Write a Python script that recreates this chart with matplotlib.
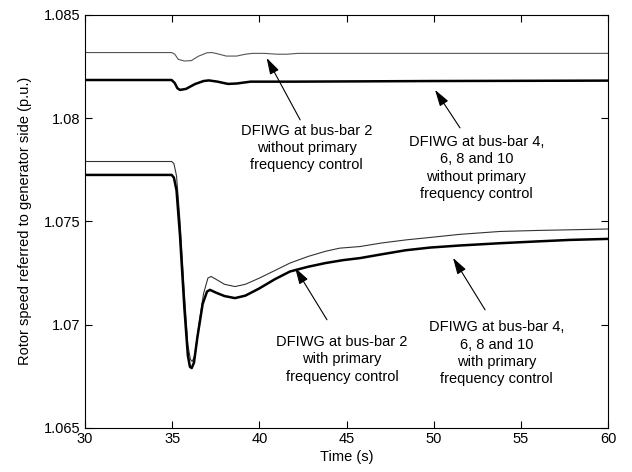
import matplotlib
matplotlib.use("Agg")
import matplotlib.pyplot as plt

plt.rcParams['font.family'] = ['Liberation Sans', 'DejaVu Sans']

# Upper curves (without primary frequency control)
t_bus2_nopfc = [30, 34.97, 35.15, 35.35, 35.7, 36.1, 36.5, 37.0, 37.3, 37.7, 38.1, 38.7, 39.2, 39.6, 40.3, 41.0, 41.6, 42.2, 60]
v_bus2_nopfc = [1.08318, 1.08318, 1.08310, 1.08285, 1.08277, 1.08279, 1.08300, 1.08317, 1.08318, 1.08310, 1.08301, 1.08301, 1.08310, 1.08314, 1.08314, 1.08310, 1.08310, 1.08314, 1.08314]

t_bus4_nopfc = [30, 34.97, 35.15, 35.3, 35.45, 35.8, 36.3, 36.8, 37.1, 37.6, 38.2, 38.7, 39.5, 42.0, 50.0, 60]
v_bus4_nopfc = [1.08185, 1.08185, 1.08170, 1.08145, 1.08137, 1.08142, 1.08165, 1.08180, 1.08183, 1.08177, 1.08166, 1.08168, 1.08177, 1.08177, 1.08180, 1.08182]

# Lower curves (with primary frequency control)
t_bus2_pfc = [30, 34.97, 35.1, 35.25, 35.45, 35.7, 35.9, 36.05, 36.15, 36.3, 36.5, 36.8, 37.05, 37.23, 37.5, 38.0, 38.6, 39.2, 40.0, 40.9, 41.76, 42.8, 43.8, 44.6, 45.78, 47.0, 48.4, 49.8, 51.5, 53.8, 56.0, 57.8, 60]
v_bus2_pfc = [1.07790, 1.07790, 1.07780, 1.07720, 1.07500, 1.07150, 1.06900, 1.06830, 1.06821, 1.06850, 1.06980, 1.07150, 1.07225, 1.07233, 1.07220, 1.07195, 1.07184, 1.07195, 1.07225, 1.07262, 1.07298, 1.07330, 1.07355, 1.07370, 1.07378, 1.07395, 1.07410, 1.07422, 1.07437, 1.07451, 1.07456, 1.07459, 1.07463]

t_bus4_pfc = [30, 34.97, 35.1, 35.25, 35.45, 35.7, 35.9, 36.02, 36.12, 36.25, 36.45, 36.75, 37.0, 37.17, 37.5, 38.0, 38.6, 39.2, 40.0, 40.9, 41.76, 42.8, 43.8, 44.8, 45.78, 47.0, 48.4, 49.8, 51.5, 53.8, 56.0, 57.8, 60]
v_bus4_pfc = [1.07725, 1.07725, 1.07712, 1.07650, 1.07430, 1.07080, 1.06850, 1.06795, 1.06789, 1.06815, 1.06940, 1.07100, 1.07160, 1.07168, 1.07155, 1.07138, 1.07128, 1.07140, 1.07175, 1.07220, 1.07257, 1.07280, 1.07298, 1.07312, 1.07322, 1.07340, 1.07360, 1.07373, 1.07383, 1.07394, 1.07403, 1.07410, 1.07415]

x_ticks = [30, 35, 40, 45, 50, 55, 60]
y_ticks = [1.065, 1.07, 1.075, 1.08, 1.085]
y_tick_labels = ['1.065', '1.07', '1.075', '1.08', '1.085']

labels = [
    "DFIWG at bus-bar 2\nwithout primary\nfrequency control",
    "DFIWG at bus-bar 4,\n6, 8 and 10\nwithout primary\nfrequency control",
    "DFIWG at bus-bar 2\nwith primary\nfrequency control",
    "DFIWG at bus-bar 4,\n6, 8 and 10\nwith primary\nfrequency control",
]
# arrow tip, tail and text centre (data coords)
arrow_tips = [(40.42, 1.08292), (50.08, 1.08137), (42.05, 1.07275), (51.11, 1.07323)]
arrow_tails = [(42.34, 1.07992), (51.51, 1.07953), (43.88, 1.07023), (52.95, 1.07071)]
text_pos = [(42.72, 1.07856), (52.45, 1.07759), (44.74, 1.06831), (53.62, 1.06860)]

FS = 10.5

fig = plt.figure(figsize=(6.32, 4.72), dpi=100)
ax = fig.add_axes([85/632, 1-427.7/472, (608-85)/632, (427.7-15)/472])

ax.plot(t_bus2_nopfc, v_bus2_nopfc, color='#555555', lw=0.8)
ax.plot(t_bus4_nopfc, v_bus4_nopfc, color='black', lw=1.8)
ax.plot(t_bus2_pfc, v_bus2_pfc, color='#333333', lw=0.8)
ax.plot(t_bus4_pfc, v_bus4_pfc, color='black', lw=1.8)

for lab, tip, tail, tp in zip(labels, arrow_tips, arrow_tails, text_pos):
    ax.annotate('', xy=tip, xytext=tail,
                arrowprops=dict(arrowstyle='-|>,head_length=1.0,head_width=0.3',
                                color='black', lw=0.8, mutation_scale=10,
                                shrinkA=0, shrinkB=0))
    ax.text(tp[0], tp[1], lab, ha='center', va='center', multialignment='center',
            fontsize=FS, linespacing=1.3)

ax.set_xlim(30, 60)
ax.set_ylim(1.065, 1.085)
ax.set_xticks(x_ticks)
ax.set_xticklabels([str(v) for v in x_ticks])
ax.set_yticks(y_ticks)
ax.set_yticklabels(y_tick_labels)
ax.tick_params(direction='in', top=True, right=True, length=5, width=0.8, labelsize=FS, pad=3)
for s in ax.spines.values():
    s.set_linewidth(0.8)
ax.set_xlabel('Time (s)', fontsize=FS, labelpad=3)
ax.set_ylabel('Rotor speed referred to generator side (p.u.)', fontsize=FS, labelpad=9)

fig.savefig('out.png', dpi=100)
